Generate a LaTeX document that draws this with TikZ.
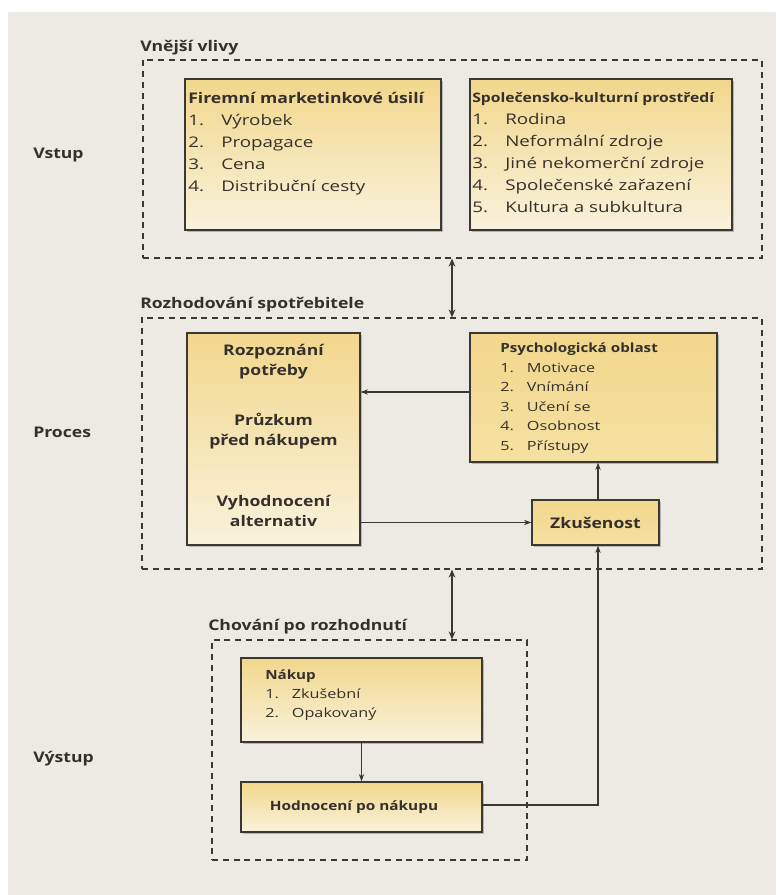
\documentclass[tikz,border=0pt]{standalone}
\usepackage{fontspec}
\setmainfont{Open Sans}[UprightFeatures={FakeStretch=1.28}, BoldFeatures={FakeStretch=1.2}]
\usetikzlibrary{arrows.meta,shadows}

\definecolor{paper}{HTML}{ECEAE2}
\definecolor{ink}{HTML}{3B3733}
\definecolor{txt}{HTML}{34302C}
\definecolor{yelA}{HTML}{F2D78C}
\definecolor{yelB}{HTML}{F9F2DC}
\definecolor{yelC}{HTML}{F5E1A2}

% numbered list entry: fixed-width number column, then the text
\newcommand{\itm}[3][24.75pt]{\makebox[#1][l]{#2}#3}

\begin{document}
\begin{tikzpicture}[x=0.75pt,y=-0.75pt,
  font=\fontsize{11}{13}\selectfont,
  wh/.style 2 args={minimum width={#1*0.75pt}, minimum height={#2*0.75pt}},
  grp/.style={draw=ink, line width=0.9pt, dash pattern=on 4.5pt off 3.6pt, inner sep=0pt},
  ybox/.style={draw=ink, line width=1pt, top color=yelA, bottom color=yelB, inner sep=0pt,
    drop shadow={shadow xshift=1.6pt, shadow yshift=-1.6pt, fill=black, opacity=0.22}},
  sbox/.style={ybox, top color=yelA, bottom color=yelC},
  lbl/.style={font=\fontsize{11}{13}\selectfont\bfseries, text=txt, inner sep=0pt, anchor=base west},
  lst/.style={text=txt, inner sep=0pt, anchor=base west},
  ctr/.style={font=\fontsize{11}{15}\selectfont\bfseries, text=txt, align=center, inner sep=0pt},
  arr/.style={draw=ink, line width=0.8pt, -{Stealth[length=5.5pt,width=4pt]}},
  dbl/.style={draw=ink, line width=1.4pt, {Stealth[length=6pt,width=5pt]}-{Stealth[length=6pt,width=5pt]}},
]
\useasboundingbox (0,0) rectangle (776,895);
\fill[white] (0,0) rectangle (776,895);
\fill[paper] (8,12) rectangle (776,895);

% dashed group frames
\node[grp, wh={619}{198}] (g1) at (452.5,159) {};
\node[grp, wh={620}{251}] (g2) at (452,443.5) {};
\node[grp, wh={315}{220}] (g3) at (369.5,750) {};

% group titles and row labels
\node[lbl] (t1) at (140,52) {Vnější vlivy};
\node[lbl] (t2) at (140,308) {Rozhodování spotřebitele};
\node[lbl] (t3) at (208,630) {Chování po rozhodnutí};
\node[lbl] (vstup) at (33,158) {Vstup};
\node[lbl] (proces) at (33,437) {Proces};
\node[lbl] (vystup) at (33,762) {Výstup};

% boxes
\node[ybox, wh={256}{151}] (fm) at (313,154.5) {};
\node[ybox, wh={262}{151}] (sk) at (601,154.5) {};
\node[ybox, wh={173}{212}] (rz) at (273.5,439) {};
\node[sbox, wh={247}{129}] (ps) at (593.5,397.5) {};
\node[sbox, wh={127}{45}, font=\fontsize{11}{13}\selectfont\bfseries, text=txt] (zk) at (595.5,522.5) {Zkušenost};
\node[ybox, wh={241}{84}] (nk) at (361.5,700) {};
\node[ybox, wh={241}{50}] (hd) at (361.5,807) {};

% box contents
\node[lst, font=\fontsize{11}{16.5}\selectfont] (fmT) at (188,104) {\begin{tabular}[t]{@{}l@{}}
  \textbf{Firemní marketinkové úsilí}\\
  \itm{1.}{Výrobek}\\ \itm{2.}{Propagace}\\ \itm{3.}{Cena}\\ \itm{4.}{Distribuční cesty}
\end{tabular}};
\node[lst, font=\fontsize{11}{16.5}\selectfont] (skT) at (472,103) {\begin{tabular}[t]{@{}l@{}}
  {\fontsize{9.8}{16.5}\selectfont\bfseries Společensko-kulturní prostředí}\\
  \itm{1.}{Rodina}\\ \itm{2.}{Neformální zdroje}\\ \itm{3.}{Jiné nekomerční zdroje}\\
  \itm{4.}{Společenské zařazení}\\ \itm{5.}{Kultura a subkultura}
\end{tabular}};
\node[lst, font=\fontsize{9.5}{14.6}\selectfont] (psT) at (500,352.8) {\begin{tabular}[t]{@{}l@{}}
  \textbf{Psychologická oblast}\\
  \itm[20pt]{1.}{Motivace}\\ \itm[20pt]{2.}{Vnímání}\\ \itm[20pt]{3.}{Učení se}\\
  \itm[20pt]{4.}{Osobnost}\\ \itm[20pt]{5.}{Přístupy}
\end{tabular}};
\node[lst, font=\fontsize{9.5}{14.25}\selectfont] (nkT) at (265,679.8) {\begin{tabular}[t]{@{}l@{}}
  \textbf{Nákup}\\
  \itm[20pt]{1.}{Zkušební}\\ \itm[20pt]{2.}{Opakovaný}
\end{tabular}};
\node[ctr] (rzA) at (273.5,362) {Rozpoznání\\potřeby};
\node[ctr] (rzB) at (273.5,431) {Průzkum\\před nákupem};
\node[ctr] (rzC) at (273.5,511) {Vyhodnocení\\alternativ};
\node[ctr, font=\fontsize{9.6}{13}\selectfont\bfseries] (hdT) at (354,807) {Hodnocení po nákupu};

% connectors
\coordinate (ax) at (452,0);
\coordinate (lx) at (598,0);
\coordinate (ly) at (0,392);
\coordinate (hy) at (0,805);
\draw[dbl] (g1.south -| ax) -- (g2.north -| ax);
\draw[dbl] (g2.south -| ax) -- (g3.north -| ax);
\draw[arr] (ps.west |- ly) -- (rz.east |- ly);
\draw[arr] (rz.east |- zk.west) -- (zk.west);
\draw[arr] (zk.north -| lx) -- (ps.south -| lx);
\draw[arr] (nk.south) -- (hd.north);
\draw[arr] (hd.east |- hy) -| (zk.south -| lx);
\end{tikzpicture}
\end{document}
